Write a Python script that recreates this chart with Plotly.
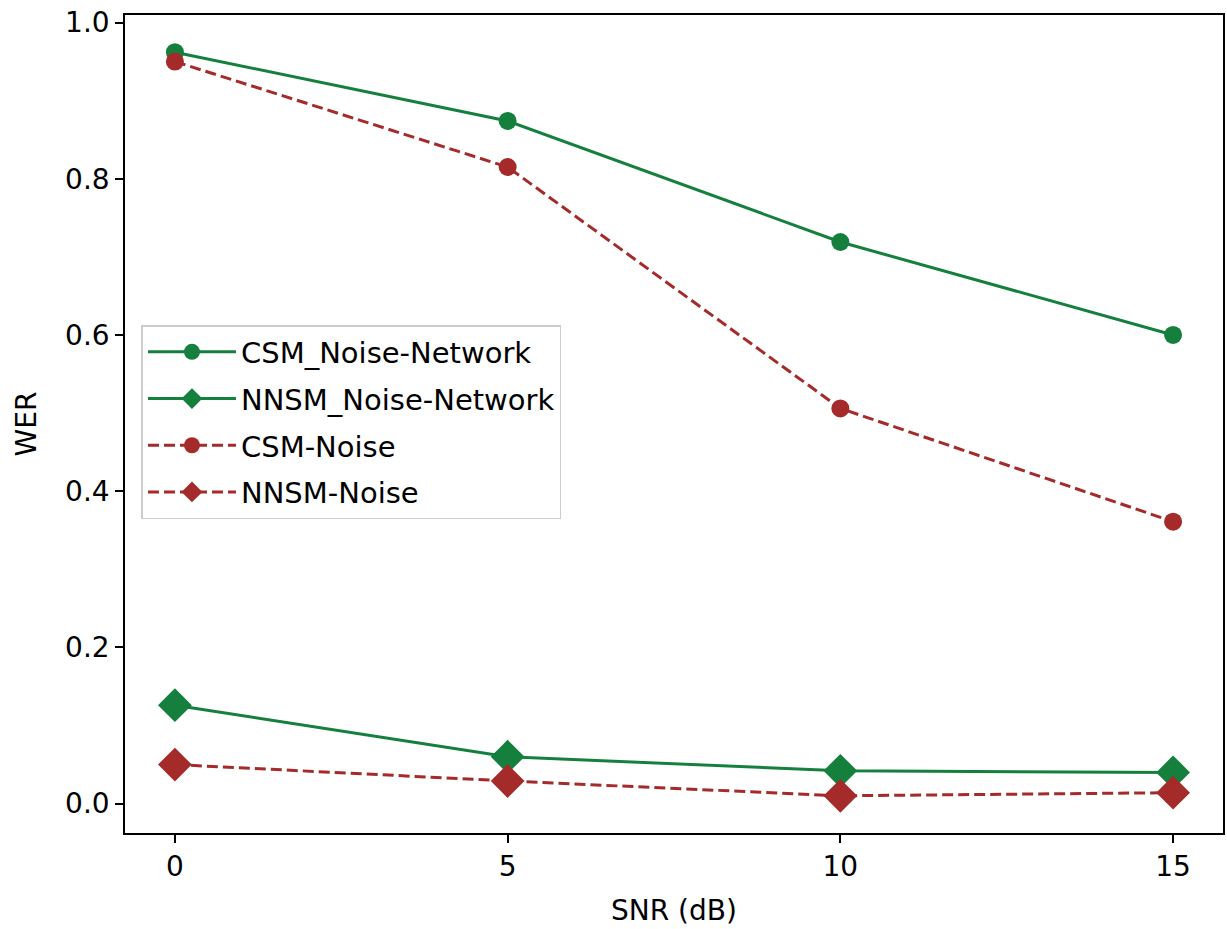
import plotly.graph_objects as go

snr = [0, 5, 10, 15]
csm_noise_network = [0.962, 0.874, 0.719, 0.600]
nnsm_noise_network = [0.126, 0.060, 0.042, 0.040]
csm_noise = [0.950, 0.815, 0.506, 0.361]
nnsm_noise = [0.050, 0.029, 0.010, 0.014]

green = "#15803d"
red = "#a52a2a"

series = [
    ("CSM_Noise-Network", csm_noise_network, green, "solid", "circle", 18),
    ("NNSM_Noise-Network", nnsm_noise_network, green, "solid", "diamond", 26),
    ("CSM-Noise", csm_noise, red, "dash", "circle", 18),
    ("NNSM-Noise", nnsm_noise, red, "dash", "diamond", 26),
]

fig = go.Figure()
for i, (name, vals, col, dash, sym, sz) in enumerate(series):
    fig.add_trace(go.Scatter(
        x=snr, y=vals, name=name, mode="lines+markers",
        line=dict(color=col, width=3, dash="11px,5px" if dash == "dash" else "solid"),
        marker=dict(symbol=sym, size=sz, color=col, line=dict(width=0)),
        legendgroup=f"g{i}",
    ))

font = "DejaVu Sans, sans-serif"
fs = 28
axis_common = dict(
    showline=True, linecolor="black", linewidth=1.5, mirror=True,
    ticks="outside", ticklen=8, tickwidth=1.5, tickcolor="black",
    showgrid=False, zeroline=False,
    tickfont=dict(family=font, size=fs, color="black"),
)
fig.update_layout(
    width=1227, height=929,
    margin=dict(l=125, r=2, t=15, b=96),
    paper_bgcolor="white", plot_bgcolor="white",
    xaxis=dict(range=[-0.75, 15.75], tickvals=[0, 5, 10, 15],
               title=dict(text="SNR (dB)", font=dict(family=font, size=fs, color="black"), standoff=18),
               **axis_common),
    yaxis=dict(range=[-0.0376, 1.0096], tickvals=[0, 0.2, 0.4, 0.6, 0.8, 1.0],
               tickformat=".1f",
               title=dict(text="WER", font=dict(family=font, size=fs, color="black"), standoff=20),
               **axis_common),
    legend=dict(
        x=0.015, y=0.621, xanchor="left", yanchor="top",
        bgcolor="rgba(255,255,255,0.8)", bordercolor="#cccccc", borderwidth=1.5,
        font=dict(family=font, size=29, color="black"),
        traceorder="grouped", tracegroupgap=6, itemwidth=88,
    ),
    showlegend=True,
)
fig.write_html("out.html")
